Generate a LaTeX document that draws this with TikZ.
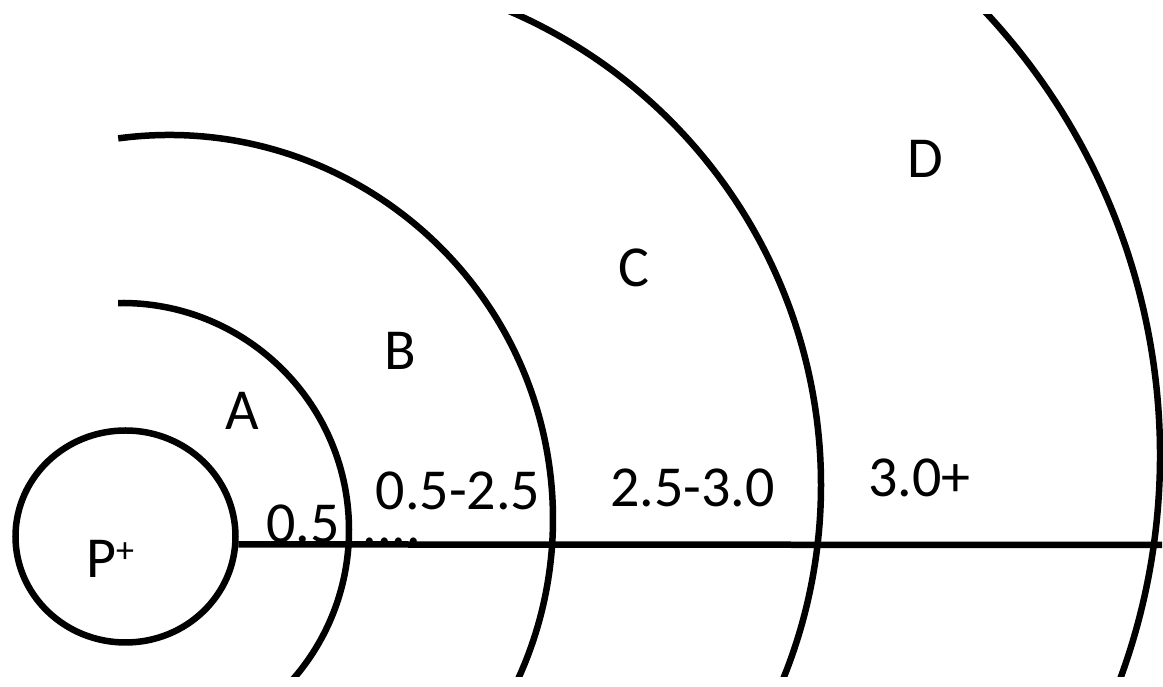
\documentclass[tikz,border=0pt]{standalone}
\usepackage{fontspec}
\setmainfont{Carlito}
\usetikzlibrary{shapes.geometric}
\begin{document}
\begin{tikzpicture}[x=1pt,y=1pt,
  ring/.style={line width=6.5pt},
  lbl/.style={inner sep=0pt, anchor=base, font=\fontsize{58}{60}\selectfont}]
\useasboundingbox (0,0) rectangle (1163,687);
% ion circle
\node[draw, ellipse, line width=6.5pt, minimum width=220pt, minimum height=212pt, inner sep=0pt] (pc) at (125.5,150.5) {};
\coordinate (lineend) at (1162,142);
% shells
\coordinate (c1) at (122,157);
\coordinate (c2) at (169,168);
\coordinate (c3) at (305,202);
\coordinate (c4) at (511,232);
\begin{scope}
  \clip (0,10) rectangle (1163,672);
  \draw[ring] (c1) ++(91:227) arc[start angle=91, end angle=-50, radius=227];
  \draw[ring] (c2) ++(97.6:384) arc[start angle=97.6, end angle=-35, radius=384];
  \draw[ring] (c3) ++(70:516) arc[start angle=70, end angle=-30, radius=516];
  \draw[ring] (c4) ++(50:649) arc[start angle=50, end angle=-25, radius=649];
\end{scope}
% labels
\node[lbl, anchor=base west] (pt) at (86,109) {P\raisebox{15pt}{\fontsize{36}{38}\selectfont +}};
\node[lbl] (la) at (242.5,257) {A};
\node[lbl] (lb) at (400,317) {B};
\node[lbl] (lc) at (634,400) {C};
\node[lbl] (ld) at (925.5,509) {D};
\node[lbl] (n1) at (303,144) {0.5};
\node[lbl] (dots) at (392,142) {....};
\node[lbl] (n2) at (458,177) {0.5-2.5};
\node[lbl] (n3) at (692.5,180) {2.5-3.0};
\node[lbl] (n4) at (919.5,190) {3.0+};
% axis line
\draw[ring] (pc.-4.5) -- (lineend);
\end{tikzpicture}
\end{document}
